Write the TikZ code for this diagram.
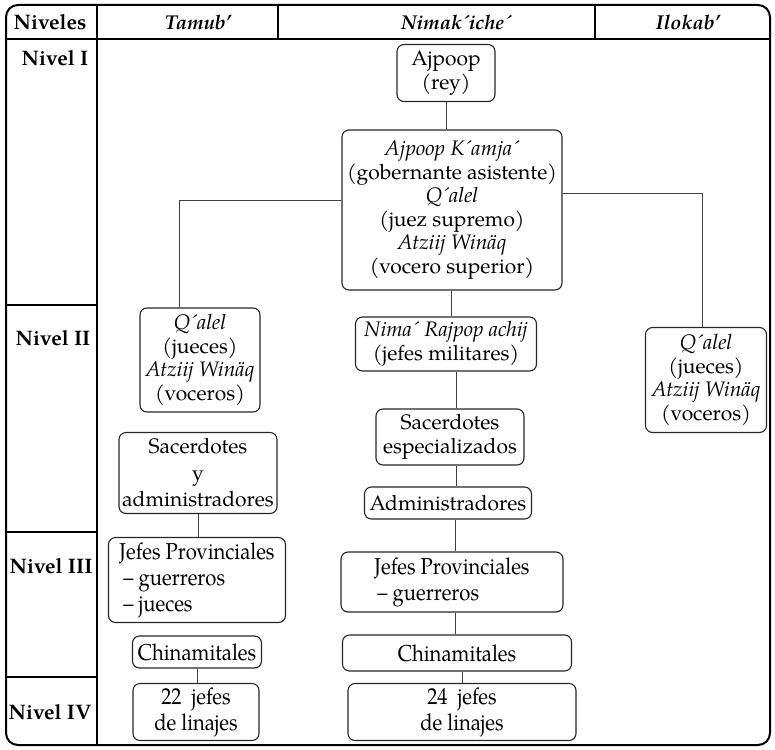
\documentclass[tikz,border=0pt]{standalone}
\usepackage{fontspec}
\setmainfont{TeX Gyre Pagella}
\newfontfamily\condfont[FakeStretch=0.88]{TeX Gyre Pagella}
\begin{document}
\begin{tikzpicture}[x=1pt,y=-1pt,
  box/.style={draw=black!85, line width=1.1pt, rounded corners=7pt, align=center, inner sep=0pt, font=\fontsize{21}{23.5}\selectfont},
  cbox/.style={box, font=\condfont\fontsize{23}{26}\selectfont},
  conn/.style={draw=black!75, line width=1pt},
  lab/.style={font=\fontsize{21}{24}\selectfont\bfseries, inner sep=0pt},
  head/.style={font=\fontsize{20}{24}\selectfont\bfseries\itshape, inner sep=0pt}]
\useasboundingbox (0,0) rectangle (775,749);
% frame
\draw[line width=2pt, rounded corners=12pt] (6,5) rectangle (770,745);
\draw[line width=2.4pt] (6,39) -- (770,39);
\draw[line width=1.1pt] (97,5) -- (97,745);
\draw[line width=1.1pt] (278,5) -- (278,39);
\draw[line width=1.1pt] (595,5) -- (595,39);
\draw[line width=1.1pt] (6,305) -- (97,305) (6,532) -- (97,532) (6,677) -- (97,677);
% headers and level labels
\node[lab] (hn) at (50,22) {Niveles};
\node[head] (ht) at (198,22) {Tamub’};
\node[head] (hm) at (456,22) {Nimak´iche´};
\node[head] (hi) at (688,22) {Ilokab’};
\node[lab] (n1) at (55,58) {Nivel I};
\node[lab] (n2) at (53,338) {Nivel II};
\node[lab] (n3) at (51,566) {Nivel III};
\node[lab] (n4) at (50,712) {Nivel IV};
% boxes
\node[box, minimum width=98, minimum height=57] (ajpoop) at (446,73) {Ajpoop\\(rey)};
\node[box, minimum width=220, minimum height=160] (big) at (452,210) {\textit{Ajpoop K´amja´}\\(gobernante asistente)\\\textit{Q´alel}\\(juez supremo)\\\textit{Atziij Winäq}\\(vocero superior)};
\node[box, minimum width=120, minimum height=104] (qaL) at (200,360) {\textit{Q´alel}\\(jueces)\\\textit{Atziij Winäq}\\(voceros)};
\node[box, minimum width=121, minimum height=105] (qaR) at (706,380) {\textit{Q´alel}\\(jueces)\\\textit{Atziij Winäq}\\(voceros)};
\node[box, minimum width=158, minimum height=81, font=\fontsize{21}{26.5}\selectfont] (sacL) at (198,473) {Sacerdotes\\y\\administradores};
\node[box, minimum width=181, minimum height=54] (nima) at (446,344) {\textit{Nima´ Rajpop achij}\\(jefes militares)};
\node[box, minimum width=148, minimum height=56] (sacM) at (450,437) {Sacerdotes\\especializados};
\node[box, minimum width=167, minimum height=32] (adm) at (448,503) {Administradores};
\node[cbox, minimum width=177, minimum height=85, align=left] (jpL) at (197,580) {Jefes Provinciales\\\hspace*{4pt}– guerreros\\\hspace*{4pt}– jueces};
\node[cbox, minimum width=222, minimum height=60, align=left] (jpM) at (452,582) {Jefes Provinciales\\\hspace*{3pt}– guerreros};
\node[cbox, minimum width=129, minimum height=32] (chL) at (197,652) {Chinamitales};
\node[cbox, minimum width=229, minimum height=36] (chM) at (457,653) {Chinamitales};
\node[cbox, minimum width=126, minimum height=57] (j22) at (196,712) {22\ \ jefes\\de linajes};
\node[cbox, minimum width=228, minimum height=57] (j24) at (462,712) {24\ \ jefes\\de linajes};
% connectors
\coordinate (bl) at (179,200);
\coordinate (br) at (702,193);
\draw[conn] (ajpoop.south) -- (ajpoop.south |- big.north);
\draw[conn] (big.west |- bl) -| (qaL.north -| bl);
\draw[conn] (big.east |- br) -| (qaR.north -| br);
\coordinate (c1) at ([xshift=5pt]nima.north);
\draw[conn] (c1) -- (c1 |- big.south);
\coordinate (c2) at ([xshift=6pt]sacM.north);
\draw[conn] (c2) -- (c2 |- nima.south);
\coordinate (c3) at ([xshift=8pt]adm.north);
\draw[conn] (c3) -- (c3 |- sacM.south);
\coordinate (c4) at ([xshift=3pt]jpM.north);
\draw[conn] (c4) -- (c4 |- adm.south);
\coordinate (c5) at ([xshift=-2pt]chM.north);
\draw[conn] (c5) -- (c5 |- jpM.south);
\coordinate (c6) at (j24.north);
\draw[conn] (c6) -- (c6 |- chM.south);
\draw[conn] (sacL.south) -- (sacL.south |- jpL.north);
\draw[conn] (chL.south) -- (chL.south |- j22.north);
\end{tikzpicture}
\end{document}
